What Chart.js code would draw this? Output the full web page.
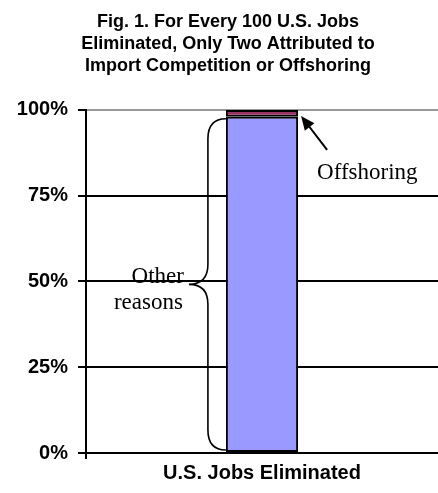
<!DOCTYPE html>
<html>
<head>
<meta charset="utf-8">
<script src="https://cdn.jsdelivr.net/npm/chart.js@4/dist/chart.umd.min.js"></script>
<style>
    html, body { margin: 0; padding: 0; background: #fff; }
    #grafico { display: block; }
</style>
</head>
<body>
<canvas id="grafico" width="438" height="493"></canvas>
<script>
var categories = ['U.S. Jobs Eliminated'];
var otherReasons = [98];
var offshoring = [2];
var tickValues = [0, 25, 50, 75, 100];
var tickLabels = ['0%', '25%', '50%', '75%', '100%'];
var titleLines = [
    'Fig. 1. For Every 100 U.S. Jobs',
    'Eliminated, Only Two Attributed to',
    'Import Competition or Offshoring'
];

var fonteSans = '"Liberation Sans", Arial, sans-serif';
var fonteSerif = '"Liberation Serif", "Times New Roman", serif';

// chave "Other reasons" e seta "Offshoring"
var anotacoes = {
    id: 'anotacoes',
    afterDatasetsDraw: function (chart) {
        var ctx = chart.ctx;
        var y = chart.scales.y;
        var barra = chart.getDatasetMeta(0).data[0];
        var esq = barra.x - barra.width / 2;
        var dir = barra.x + barra.width / 2;
        var topo = barra.y + 2;
        var base = y.getPixelForValue(0) - 3;
        var meio = (topo + base) / 2;
        var vx = esq - 18;
        var ponta = esq - 37;
        var r = 20;

        ctx.save();
        ctx.strokeStyle = '#000';
        ctx.lineWidth = 1.6;
        ctx.beginPath();
        ctx.moveTo(esq, topo);
        ctx.quadraticCurveTo(vx, topo, vx, topo + r);
        ctx.lineTo(vx, meio - r);
        ctx.quadraticCurveTo(vx, meio, ponta, meio);
        ctx.quadraticCurveTo(vx, meio, vx, meio + r);
        ctx.lineTo(vx, base - r);
        ctx.quadraticCurveTo(vx, base, esq, base);
        ctx.stroke();

        ctx.fillStyle = '#000';
        ctx.font = '23px ' + fonteSerif;
        ctx.textAlign = 'right';
        ctx.textBaseline = 'alphabetic';
        ctx.fillText('Other', ponta - 5, meio - 1);
        ctx.fillText('reasons', ponta - 6, meio + 25);

        var topoGrafico = y.getPixelForValue(100);
        ctx.textAlign = 'left';
        ctx.fillText('Offshoring', dir + 19, topoGrafico + 69);

        // seta
        var x0 = dir + 29, y0 = topoGrafico + 40;
        var x1 = dir + 3, y1 = topoGrafico + 6;
        var ang = Math.atan2(y1 - y0, x1 - x0);
        ctx.lineWidth = 2;
        ctx.beginPath();
        ctx.moveTo(x0, y0);
        ctx.lineTo(x1 - 8 * Math.cos(ang), y1 - 8 * Math.sin(ang));
        ctx.stroke();
        ctx.beginPath();
        ctx.moveTo(x1, y1);
        ctx.lineTo(x1 - 14 * Math.cos(ang) + 6 * Math.sin(ang), y1 - 14 * Math.sin(ang) - 6 * Math.cos(ang));
        ctx.lineTo(x1 - 14 * Math.cos(ang) - 6 * Math.sin(ang), y1 - 14 * Math.sin(ang) + 6 * Math.cos(ang));
        ctx.closePath();
        ctx.fill();
        ctx.restore();
    }
};

new Chart(document.getElementById('grafico'), {
    type: 'bar',
    data: {
        labels: categories,
        datasets: [
            {
                label: 'Other reasons', data: otherReasons, backgroundColor: '#9999ff',
                borderColor: '#000', borderWidth: 2, borderSkipped: false,
                barPercentage: 0.205, categoryPercentage: 1
            },
            {
                label: 'Offshoring', data: offshoring, backgroundColor: '#993366',
                borderColor: '#000', borderWidth: 2, borderSkipped: false,
                barPercentage: 0.205, categoryPercentage: 1
            }
        ]
    },
    options: {
        responsive: false,
        animation: false,
        layout: { padding: { left: 18, right: 0, top: 0, bottom: 0 } },
        plugins: {
            legend: { display: false },
            tooltip: { enabled: false },
            title: {
                display: true,
                text: titleLines,
                color: '#000',
                font: { family: fonteSans, size: 18, weight: 'bold', lineHeight: 1.22 },
                padding: { top: 11, bottom: 33 }
            }
        },
        scales: {
            x: {
                stacked: true,
                offset: true,
                afterFit: function (s) { s.height = 40; },
                grid: {
                    drawOnChartArea: false, offset: true, tickLength: 6, lineWidth: 2,
                    color: function (c) { return c.index === 0 ? '#000' : 'rgba(0,0,0,0)'; }
                },
                border: { color: '#000', width: 2 },
                ticks: { color: '#000', padding: 2, font: { family: fonteSans, size: 20, weight: 'bold' } }
            },
            y: {
                stacked: true,
                min: 0,
                max: 100,
                afterFit: function (s) { s.width = 68; },
                afterBuildTicks: function (s) {
                    s.ticks = tickValues.map(function (v) { return { value: v }; });
                },
                grid: {
                    tickLength: 8,
                    lineWidth: 2,
                    color: function (c) { return c.tick && c.tick.value === 100 ? '#999999' : '#000'; },
                    tickColor: '#000'
                },
                border: { color: '#000', width: 2 },
                ticks: {
                    color: '#000',
                    padding: 10,
                    font: { family: fonteSans, size: 20, weight: 'bold' },
                    callback: function (value) {
                        var i = tickValues.indexOf(value);
                        return i >= 0 ? tickLabels[i] : '';
                    }
                }
            }
        }
    },
    plugins: [anotacoes]
});
</script>
</body>
</html>
